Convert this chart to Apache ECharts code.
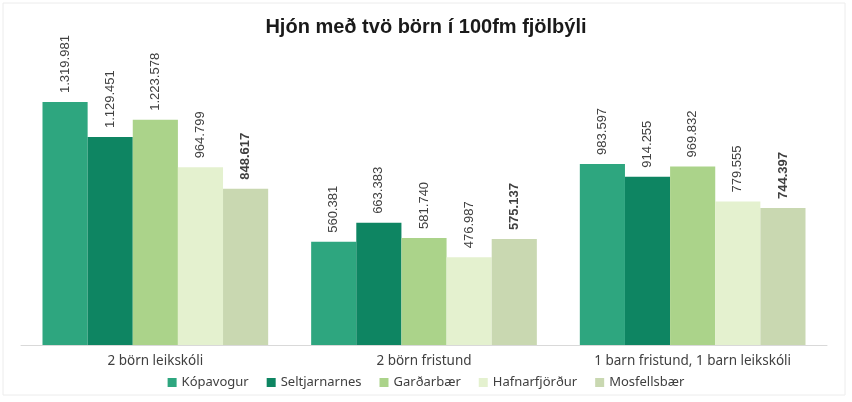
<!DOCTYPE html>
<html><head><meta charset="utf-8">
<script src="https://cdn.jsdelivr.net/npm/echarts@6/dist/echarts.min.js"></script>
<style>html,body{margin:0;padding:0;background:#fff}#c{width:852px;height:402px}</style>
</head><body><div id="c"></div>
<script>
const categories = ['2 börn leikskóli', '2 börn fristund', '1 barn fristund, 1 barn leikskóli'];
const seriesNames = ['Kópavogur', 'Seltjarnarnes', 'Garðarbær', 'Hafnarfjörður', 'Mosfellsbær'];
const kopavogur = [1319981, 560381, 983597];
const seltjarnarnes = [1129451, 663383, 914255];
const gardabaer = [1223578, 581740, 969832];
const hafnarfjordur = [964799, 476987, 779555];
const mosfellsbaer = [848617, 575137, 744397];
const seriesData = [kopavogur, seltjarnarnes, gardabaer, hafnarfjordur, mosfellsbaer];
const colors = ['#2EA67F', '#0E8562', '#ABD38A', '#E4F1CF', '#C9D8B1'];

function fmt(v){ return String(v).replace(/\B(?=(\d{3})+(?!\d))/g, '.'); }

const chart = echarts.init(document.getElementById('c'));
chart.setOption({
  animation: false,
  title: { text: 'Hjón með tvö börn í 100fm fjölbýli', left: 'center', top: 12,
    textStyle: { fontFamily: 'Liberation Sans', fontWeight: 'bold', fontSize: 20, color: '#1a1a1a' } },
  graphic: [{ type: 'rect', shape: { x: 3, y: 3, width: 842, height: 392 }, style: { fill: 'none', stroke: '#ececec', lineWidth: 1 } }],
  legend: { bottom: 8, left: 'center', itemWidth: 9, itemHeight: 9, itemGap: 18, icon: 'rect',
    textStyle: { fontFamily: 'Noto Sans', fontSize: 13, color: '#404040' } },
  grid: { left: 21, right: 25, top: 32, bottom: 57 },
  xAxis: { type: 'category', data: categories,
    axisLine: { lineStyle: { color: '#d9d9d9' } }, axisTick: { show: false },
    axisLabel: { fontFamily: 'Noto Sans', fontSize: 13.5, color: '#404040', margin: 9 } },
  yAxis: { type: 'value', min: 0, max: 1700000, show: false, splitLine: { show: false } },
  series: seriesNames.map((n, i) => ({
    name: n, type: 'bar', data: seriesData[i], barGap: '0%', barCategoryGap: '16%',
    itemStyle: { color: colors[i] },
    label: { show: true, position: 'top', rotate: 90, align: 'left', verticalAlign: 'middle', distance: 9,
      fontFamily: 'Liberation Sans', fontSize: 13, color: '#404040', fontWeight: i === 4 ? 'bold' : 'normal',
      formatter: p => fmt(p.value) }
  }))
});
</script></body></html>
